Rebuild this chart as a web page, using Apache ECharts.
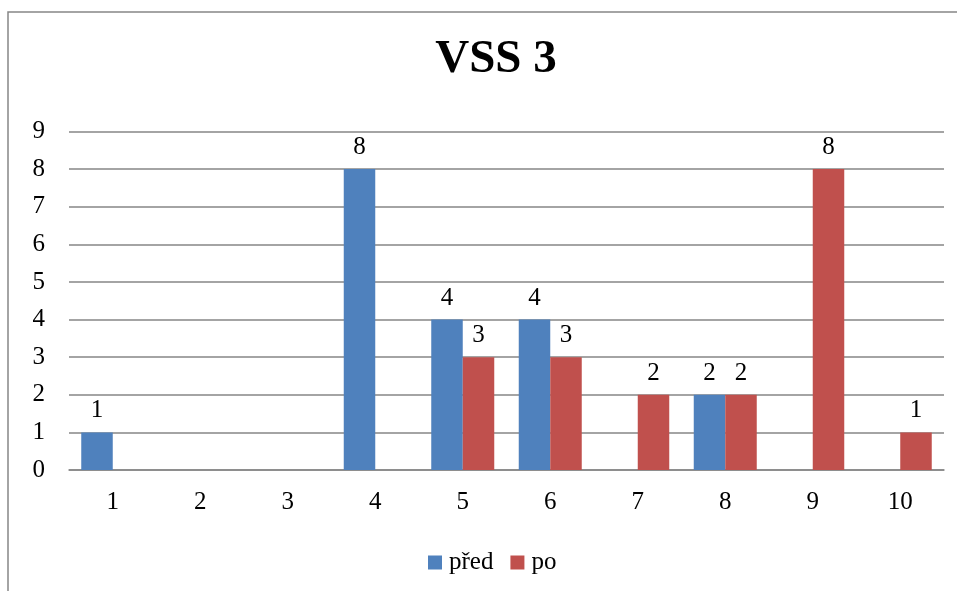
<!DOCTYPE html>
<html>
<head>
<meta charset="utf-8">
<script src="https://cdn.jsdelivr.net/npm/echarts@6/dist/echarts.min.js"></script>
<style>
  html, body { margin: 0; padding: 0; background: #fff; }
  #chart { width: 957px; height: 591px; }
</style>
</head>
<body>
<div id="chart"></div>
<script>
  // data
  var categories = ['1', '2', '3', '4', '5', '6', '7', '8', '9', '10'];
  var pred = [1, 0, 0, 8, 4, 4, 0, 2, 0, 0];
  var po = [0, 0, 0, 0, 3, 3, 2, 2, 8, 1];
  var seriesNames = ['před', 'po'];

  var font = '"Liberation Serif", "Times New Roman", serif';

  // labels only for non-zero bars
  function valueLabel(p) {
    return p.value === 0 ? '' : String(p.value);
  }

  var chart = echarts.init(document.getElementById('chart'));
  chart.setOption({
    animation: false,
    title: {
      text: 'VSS 3',
      top: 31,
      left: 491,
      textAlign: 'center',
      textStyle: { fontFamily: font, fontWeight: 'bold', fontSize: 47, color: '#000' }
    },
    graphic: [{
      // chart frame, only top and left edge are visible
      type: 'rect',
      shape: { x: 8, y: 12, width: 1200, height: 900 },
      style: { fill: 'none', stroke: '#868686', lineWidth: 1.5 },
      silent: true
    }],
    legend: {
      data: seriesNames,
      top: 545,
      left: 423,
      itemWidth: 14,
      itemHeight: 14,
      itemGap: 17,
      icon: 'rect',
      textStyle: { fontFamily: font, fontSize: 25, color: '#000', padding: [0, 0, 0, 2] }
    },
    grid: { left: 69, right: 13, top: 131.5, bottom: 121, containLabel: false },
    xAxis: {
      type: 'category',
      data: categories,
      axisLine: { lineStyle: { color: '#868686', width: 1.5 } },
      axisTick: { show: false },
      axisLabel: { fontFamily: font, fontSize: 25, color: '#000', margin: 20 }
    },
    yAxis: {
      type: 'value',
      min: 0,
      max: 9,
      interval: 1,
      axisLine: { show: false },
      axisTick: { show: false },
      axisLabel: { fontFamily: font, fontSize: 25, color: '#000', margin: 24 },
      splitLine: { lineStyle: { color: '#868686', width: 1.5 } }
    },
    series: [{
      name: seriesNames[0],
      type: 'bar',
      data: pred,
      barGap: '0%',
      barCategoryGap: '28%',
      itemStyle: { color: '#4F81BD' },
      label: { show: true, position: 'top', distance: 9, formatter: valueLabel,
        fontFamily: font, fontSize: 25, color: '#000' }
    }, {
      name: seriesNames[1],
      type: 'bar',
      data: po,
      barGap: '0%',
      barCategoryGap: '28%',
      itemStyle: { color: '#C0504D' },
      label: { show: true, position: 'top', distance: 9, formatter: valueLabel,
        fontFamily: font, fontSize: 25, color: '#000' }
    }]
  });
</script>
</body>
</html>
